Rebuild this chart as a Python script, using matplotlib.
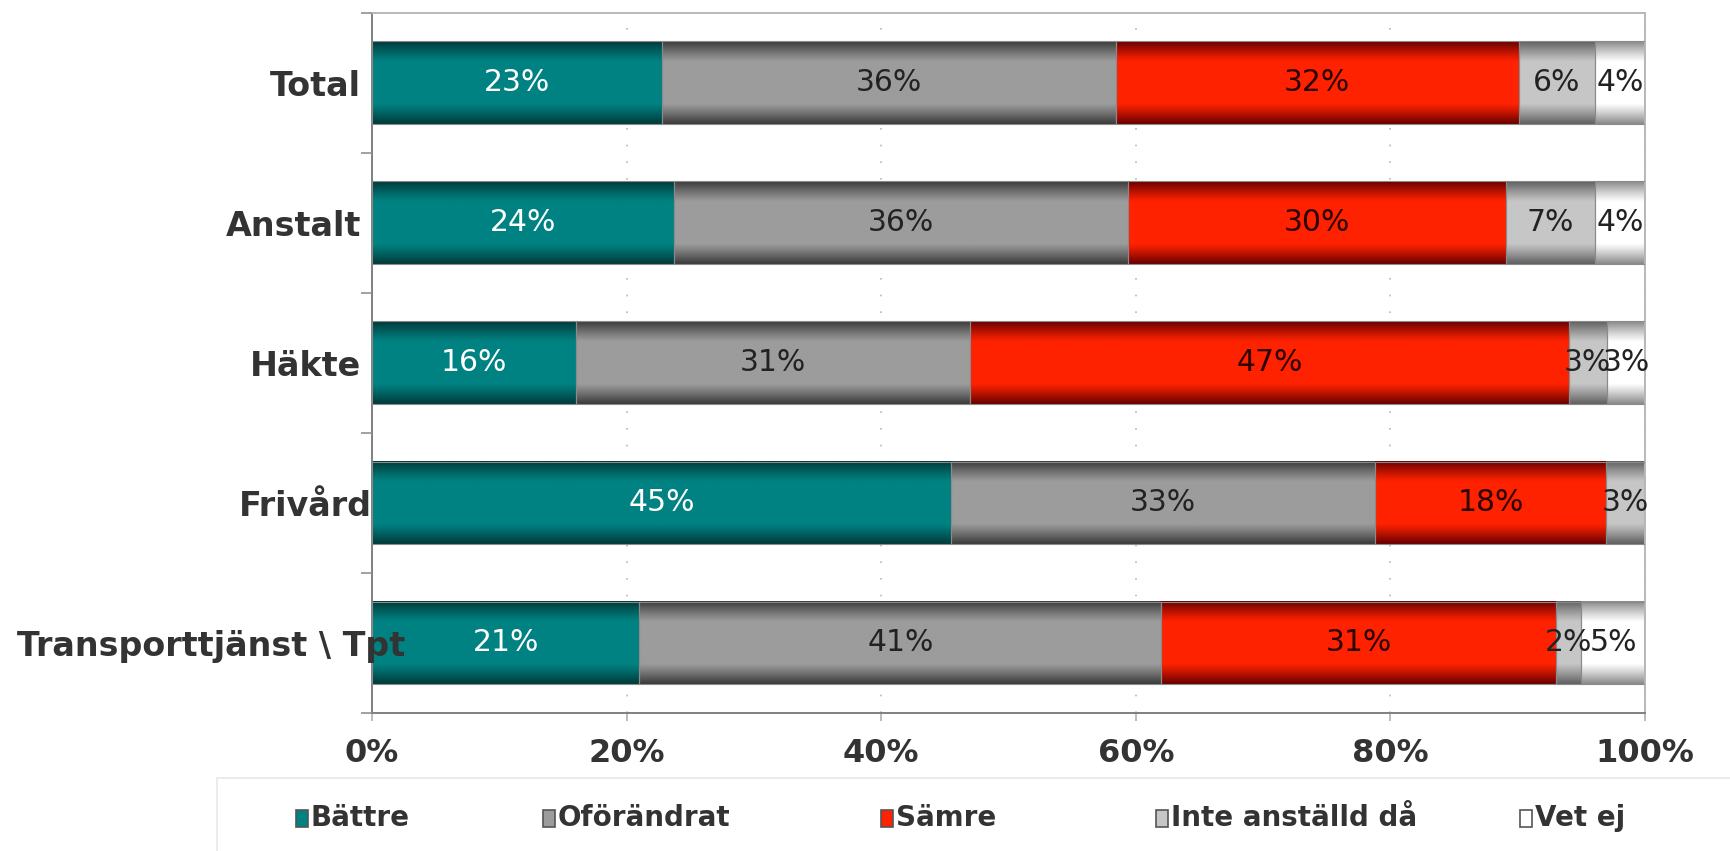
import numpy as np
import matplotlib
matplotlib.use("Agg")
import matplotlib.pyplot as plt
from matplotlib.colors import to_rgb
from matplotlib.patches import Rectangle
from matplotlib.transforms import ScaledTranslation

# data (top to bottom as in the chart)
categories = ["Total", "Anstalt", "Häkte", "Frivård", "Transporttjänst \\ Tpt"]
series = ["Bättre", "Oförändrat", "Sämre", "Inte anställd då", "Vet ej"]
battre = [23, 24, 16, 45, 21]
oforandrat = [36, 36, 31, 33, 41]
samre = [32, 30, 47, 18, 31]
inte_anstalld = [6, 7, 3, 3, 2]
vet_ej = [4, 4, 3, 0, 5]

# (edge colour, middle colour) for the tube-like shading
shades = [("#003a3a", "#008282"),
          ("#3c3c3c", "#9c9c9c"),
          ("#6a0000", "#ff2200"),
          ("#626262", "#c6c6c6"),
          ("#8c8c8c", "#ffffff")]
label_colors = ["white", "#222222", "#2a0000", "#222222", "#222222"]

W, H = 1731, 851
fig = plt.figure(figsize=(W / 100, H / 100), dpi=100)
ax = fig.add_axes([372 / W, 1 - 713 / H, (1645 - 372) / W, (713 - 12.6) / H])


def gradient(edge, mid, n=64):
    t = np.linspace(0, 1, n)
    w = np.clip(np.sin(np.pi * t) * 1.45, 0, 1)[:, None]
    e, m = np.array(to_rgb(edge)), np.array(to_rgb(mid))
    return (e + (m - e) * w)[:, None, :]


values = np.array([battre, oforandrat, samre, inte_anstalld, vet_ej], dtype=float)
pct = values / values.sum(axis=0) * 100
n = len(categories)
ypos = np.arange(n)[::-1]
bar_h = 0.59

left = np.zeros(n)
for s in range(len(series)):
    img = gradient(*shades[s])
    for i in range(n):
        w = pct[s, i]
        if w <= 0:
            continue
        y = ypos[i]
        ax.imshow(img, extent=(left[i], left[i] + w, y - bar_h / 2, y + bar_h / 2),
                  aspect="auto", interpolation="bilinear", zorder=2)
        ax.add_patch(Rectangle((left[i], y - bar_h / 2), w, bar_h, fill=False,
                               edgecolor="#8a8a8a", lw=0.8, zorder=3))
        ax.text(left[i] + w / 2, y, f"{int(values[s, i])}%", ha="center", va="center",
                fontsize=21.5, color=label_colors[s], zorder=4)
    left += pct[s]

ax.set_xlim(0, 100)
ax.set_ylim(-0.5, n - 0.5)

# axes styling: dark left/bottom, light top/right frame
for side in ["left", "bottom"]:
    ax.spines[side].set_color("#808080")
    ax.spines[side].set_linewidth(1.4)
for side in ["top", "right"]:
    ax.spines[side].set_color("#b8b8b8")
    ax.spines[side].set_linewidth(1.4)

ax.set_xticks(np.arange(0, 101, 20))
ax.set_xticklabels([f"{v}%" for v in range(0, 101, 20)])
ax.tick_params(axis="x", length=6, width=1.2, color="#b0b0b0", pad=12,
               labelsize=23, labelcolor="#333333")
for lab in ax.get_xticklabels():
    lab.set_fontweight("bold")

ax.set_yticks(ypos)
ax.set_yticklabels(categories)
ax.set_yticks(np.arange(-0.5, n, 1), minor=True)
ax.tick_params(axis="y", which="major", length=0, pad=8, labelsize=24,
               labelcolor="#333333")
ax.tick_params(axis="y", which="minor", length=8, width=1.2, color="#909090")
# the long labels run into the plot area in the original
shift_px = {"Frivård": 11, "Transporttjänst \\ Tpt": 44}
for lab in ax.get_yticklabels():
    lab.set_fontweight("bold")
    dx = shift_px.get(lab.get_text(), 0)
    if dx:
        lab.set_transform(lab.get_transform() +
                          ScaledTranslation(dx / 100, 0, fig.dpi_scale_trans))

ax.xaxis.grid(True, linestyle=(0, (1, 9)), color="#b8b8b8", lw=1.2)
ax.xaxis.set_zorder(0.5)
ax.yaxis.set_zorder(5)

# legend box and entries
fig.patches.append(Rectangle((217 / W, -0.05), 1.1, 1 - 778 / H + 0.05,
                             transform=fig.transFigure, fill=False,
                             edgecolor="#e8e8e8", lw=1.2))
legend_x = [296, 543, 881, 1156, 1520]
for s, name in enumerate(series):
    x0 = legend_x[s]
    fig.patches.append(Rectangle((x0 / W, 1 - 827 / H), 12 / W, 17 / H,
                                 transform=fig.transFigure,
                                 facecolor=shades[s][1], edgecolor="#555555", lw=1.2))
    fig.text((x0 + 15) / W, 1 - 818 / H, name, ha="left", va="center",
             fontsize=20, fontweight="bold", color="#333333")

fig.savefig("out.png", dpi=100, facecolor="white")
